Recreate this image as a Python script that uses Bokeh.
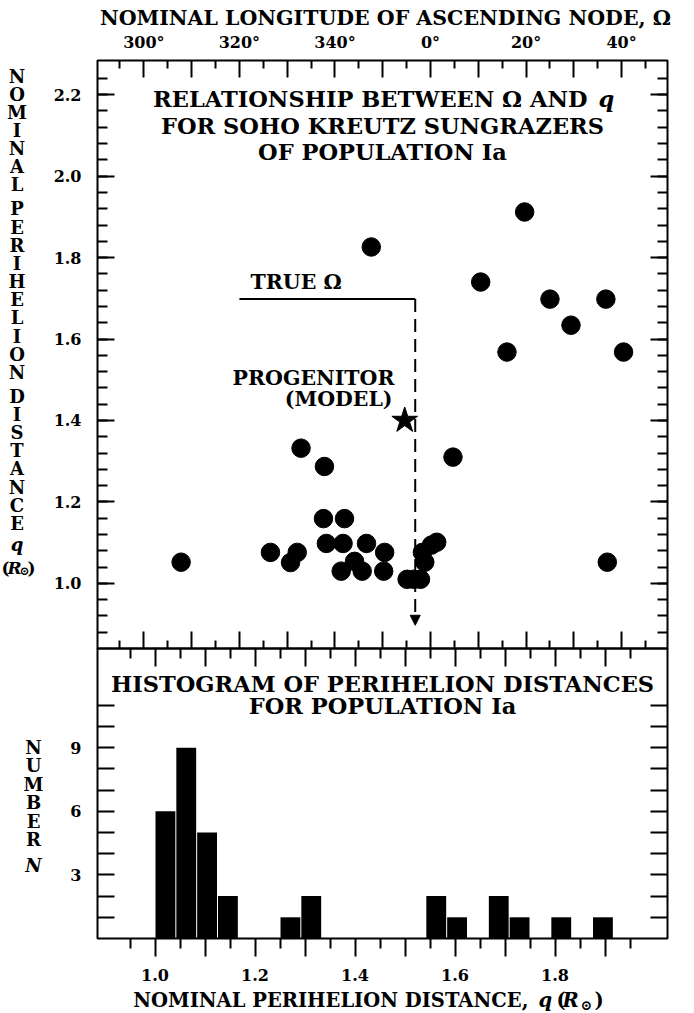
from bokeh.plotting import figure
from bokeh.models import (Range1d, LinearAxis, FixedTicker, Label, Arrow, NormalHead,
                          CustomJSTickFormatter, PrintfTickFormatter)
from bokeh.embed import file_html
from bokeh.resources import INLINE

# ---------------------------------------------------------------- data
# Nominal longitude of the ascending node in degrees; values beyond 360 deg are
# written as negatives (Omega - 360), so 300 deg -> -60.
node_deg = [-52.2, -33.5, -29.3, -27.9, -27.1, -22.2, -22.4, -18.0, -21.8, -18.3,
            -13.4, -18.7, -15.9, -14.3, -9.6, -9.8, -4.9, -3.5, -2.1, -1.7,
            -1.2, 0.2, 1.3, 4.7, 16.0, 40.4, 37.0, 19.7, 10.5, 25.0,
            36.7, 29.4, -12.4]
# Nominal perihelion distance q (solar radii)
perihelion_q = [1.052, 1.076, 1.051, 1.076, 1.332, 1.287, 1.159, 1.159, 1.098, 1.098,
                1.098, 1.030, 1.054, 1.030, 1.076, 1.030, 1.010, 1.010, 1.010, 1.076,
                1.052, 1.094, 1.101, 1.310, 1.568, 1.568, 1.052, 1.912, 1.740, 1.698,
                1.698, 1.634, 1.826]

# Histogram of q: bins of width 1/24 starting at q = 1.0
hist_start = 1.0
hist_width = 1.0 / 24.0
hist_counts = [6, 9, 5, 2, 0, 0, 1, 2, 0, 0, 0, 0, 0, 2, 1, 0, 2, 1, 0, 1, 0, 1]

# Model progenitor and the true node
progenitor_node = -5.4
progenitor_q = 1.40
true_node = -3.2
true_line_start = -40.0
true_line_q = 1.698
arrow_tip_q = 0.897

angle_major = list(range(-60, 41, 10))
angle_minor = list(range(-65, 50, 10))
q_major = [1.0, 1.2, 1.4, 1.6, 1.8, 2.0, 2.2]
q_minor = [round(0.88 + 0.04 * i, 2) for i in range(35)]
hq_major = [round(1.0 + 0.1 * i, 1) for i in range(10)]
hq_minor = [round(0.95 + 0.1 * i, 2) for i in range(11)]
count_ticks = list(range(1, 12))

# ---------------------------------------------------------------- geometry
W, H = 694, 1013
FL, FR, FT, FB = 97, 667, 60, 938      # box edges on the page
MID = 648                              # boundary between the two panels
X0, X1 = -69.7, 49.6                   # node axis at the box edges
QTOP, QMID = 2.284, 0.840              # q axis of the upper panel
HX0, HX1 = 0.885, 2.025                # q axis of the histogram
px_per_count = 21.2

deg_per_px = (X1 - X0) / (FR - FL)
q_per_px = (QTOP - QMID) / (MID - FT)
hq_per_px = (HX1 - HX0) / (FR - FL)
QBOT = QMID - (FB - MID) * q_per_px    # q value at the histogram's base line

FONT = "DejaVu Serif"
TEXT_SHIFT = 8                         # baseline correction for labels (px)

# the drawing area fills the whole canvas, so nothing is clipped
p = figure(width=W, height=H,
           x_range=Range1d(X0 - FL * deg_per_px, X1 + (W - FR) * deg_per_px),
           y_range=Range1d(QBOT - (H - FB) * q_per_px, QTOP + FT * q_per_px),
           x_axis_location=None, y_axis_location=None, toolbar_location=None,
           output_backend="svg", min_border=0)
p.title.visible = False
p.grid.visible = False
p.outline_line_color = None
p.background_fill_color = "white"
p.border_fill_color = "white"
p.extra_x_ranges = {"hq": Range1d(HX0 - FL * hq_per_px, HX1 + (W - FR) * hq_per_px)}
p.extra_y_ranges = {"n": Range1d(-(H - FB) / px_per_count, FB / px_per_count)}


def ax(px):
    return X0 + (px - FL) * deg_per_px


def ay(py):
    return QTOP - (py - FT) * q_per_px


BLANK = CustomJSTickFormatter(code='return "";')


def make_axis(ticks, minor=(), tick_len=17, minor_len=9, outward=False,
              formatter=None, standoff=10, **kw):
    a = LinearAxis(ticker=FixedTicker(ticks=list(ticks), minor_ticks=list(minor)), **kw)
    if outward:
        a.major_tick_out, a.major_tick_in = tick_len, 0
        a.minor_tick_out, a.minor_tick_in = minor_len, 0
    else:
        a.major_tick_in, a.major_tick_out = tick_len, 0
        a.minor_tick_in, a.minor_tick_out = minor_len, 0
    a.major_tick_line_width = 2
    a.minor_tick_line_width = 2
    a.major_tick_line_color = "black"
    a.minor_tick_line_color = "black"
    a.axis_line_color = None
    if formatter is None:
        a.formatter = BLANK
        a.major_label_text_font_size = "0px"
        a.major_label_standoff = 0
    else:
        a.formatter = formatter
        a.major_label_text_font = FONT
        a.major_label_text_font_style = "bold"
        a.major_label_text_font_size = "16px"
        a.major_label_text_color = "black"
        a.major_label_standoff = standoff
    return a


angle_fmt = CustomJSTickFormatter(code="""
const t = Math.round(tick);
if (t % 20 != 0) return "";
return ((t + 360) % 360) + "\u00b0";
""")
hq_fmt = CustomJSTickFormatter(code="""
const k = Math.round(tick * 20);
return (k % 4 == 0) ? tick.toFixed(1) : "";
""")
count_fmt = CustomJSTickFormatter(code="""
return (Math.round(tick) % 3 == 0) ? String(Math.round(tick)) : "";
""")

# upper panel: node scale along the top, inward ticks on its lower edge
p.add_layout(make_axis(angle_major, angle_minor, 17, 8, formatter=angle_fmt, standoff=9,
                       fixed_location=QTOP), "above")
p.add_layout(make_axis(angle_major, angle_minor, 17, 8, fixed_location=QMID), "below")
# histogram: q ticks hanging from the shared edge and along the base
p.add_layout(make_axis(hq_major, hq_minor, 18, 10, x_range_name="hq",
                       fixed_location=QMID), "above")
p.add_layout(make_axis(hq_major, hq_minor, 18, 10, outward=True, formatter=hq_fmt,
                       standoff=12, x_range_name="hq", fixed_location=QBOT), "below")
# q scale of the upper panel
p.add_layout(make_axis(q_major, q_minor, 17, 10, formatter=PrintfTickFormatter(format="%.1f"),
                       standoff=16, fixed_location=X0), "left")
p.add_layout(make_axis(q_major, q_minor, 17, 10, fixed_location=X1), "right")
# count scale of the histogram
p.add_layout(make_axis(count_ticks, (), 17, 0, formatter=count_fmt, standoff=16,
                       y_range_name="n", fixed_location=X0), "left")
p.add_layout(make_axis(count_ticks, (), 17, 0, y_range_name="n", fixed_location=X1), "right")

# panel boxes
p.quad(left=[X0, X0], right=[X1, X1], top=[QTOP, QMID], bottom=[QMID, QBOT],
       fill_color=None, line_color="black", line_width=2)

# ---------------------------------------------------------------- marks
p.line(x=[true_line_start, true_node], y=[true_line_q, true_line_q],
       line_color="black", line_width=2)
p.add_layout(Arrow(x_start=true_node, y_start=true_line_q, x_end=true_node, y_end=arrow_tip_q,
                   line_color="black", line_width=2, line_dash="13 7",
                   end=NormalHead(size=10, fill_color="black", line_color="black",
                                  line_width=1)))

p.scatter(node_deg, perihelion_q, size=18.5, color="black")
p.scatter([progenitor_node], [progenitor_q], marker="star", size=27, color="black")

edges = [hist_start + i * hist_width for i in range(len(hist_counts))]
gap = 0.001
p.quad(left=[e + gap for e in edges], right=[e + hist_width - gap for e in edges],
       bottom=0, top=hist_counts, x_range_name="hq", y_range_name="n",
       fill_color="black", line_color=None)


# ---------------------------------------------------------------- text
def put(text, px, py, size, style="bold", align="left"):
    p.add_layout(Label(x=ax(px), y=ay(py - TEXT_SHIFT), text=text, text_font=FONT,
                       text_font_style=style, text_font_size=f"{size}px",
                       text_align=align, text_baseline="alphabetic", text_color="black"))


put("NOMINAL LONGITUDE OF ASCENDING NODE, \u03a9", 385, 25, 20.5, align="center")

put("RELATIONSHIP BETWEEN \u03a9 AND", 587, 106.5, 22.5, align="right")
put("q", 598, 106.5, 22.5, style="bold italic")
put("FOR SOHO KREUTZ SUNGRAZERS", 382, 133, 22.5, align="center")
put("OF POPULATION Ia", 382, 159.5, 22.5, align="center")

put("TRUE \u03a9", 250, 289.5, 20.5)
put("PROGENITOR", 394, 385, 20.5, align="right")
put("(MODEL)", 392, 406.5, 20.5, align="right")

put("HISTOGRAM OF PERIHELION DISTANCES", 382, 691.5, 22.5, align="center")
put("FOR POPULATION Ia", 382, 713, 22.5, align="center")

# x-axis title of the histogram, built from pieces with their own styles
put("NOMINAL PERIHELION DISTANCE,", 528, 1008, 19.5, align="right")
put("q", 538, 1008, 19.5, style="bold italic")
put("(", 556, 1008, 19.5)
put("R", 562, 1008, 19.5, style="bold italic")
put("\u2299", 580, 1012, 14)
put(")", 594, 1008, 19.5)

# stacked vertical labels
LS = 18
y = 77.0
for word in ["NOMINAL", "PERIHELION", "DISTANCE"]:
    for ch in word:
        put(ch, 16.5, y + 0.365 * LS, LS, align="center")
        y += 18.15
    y += 24 - 18.15
put("q", 16.5, 545 + 0.365 * LS, LS, style="bold italic", align="center")
put("(", 1, 575, 17)
put("R", 7, 575, 17, style="bold italic")
put("\u2299", 19, 578, 12)
put(")", 27, 575, 17)

y = 748.0
for ch in "NUMBER":
    put(ch, 33, y + 0.365 * LS, LS, align="center")
    y += 18.5
put("N", 33, 866 + 0.365 * LS, LS, style="bold italic", align="center")

open("out.html", "w").write(file_html(p, INLINE))
